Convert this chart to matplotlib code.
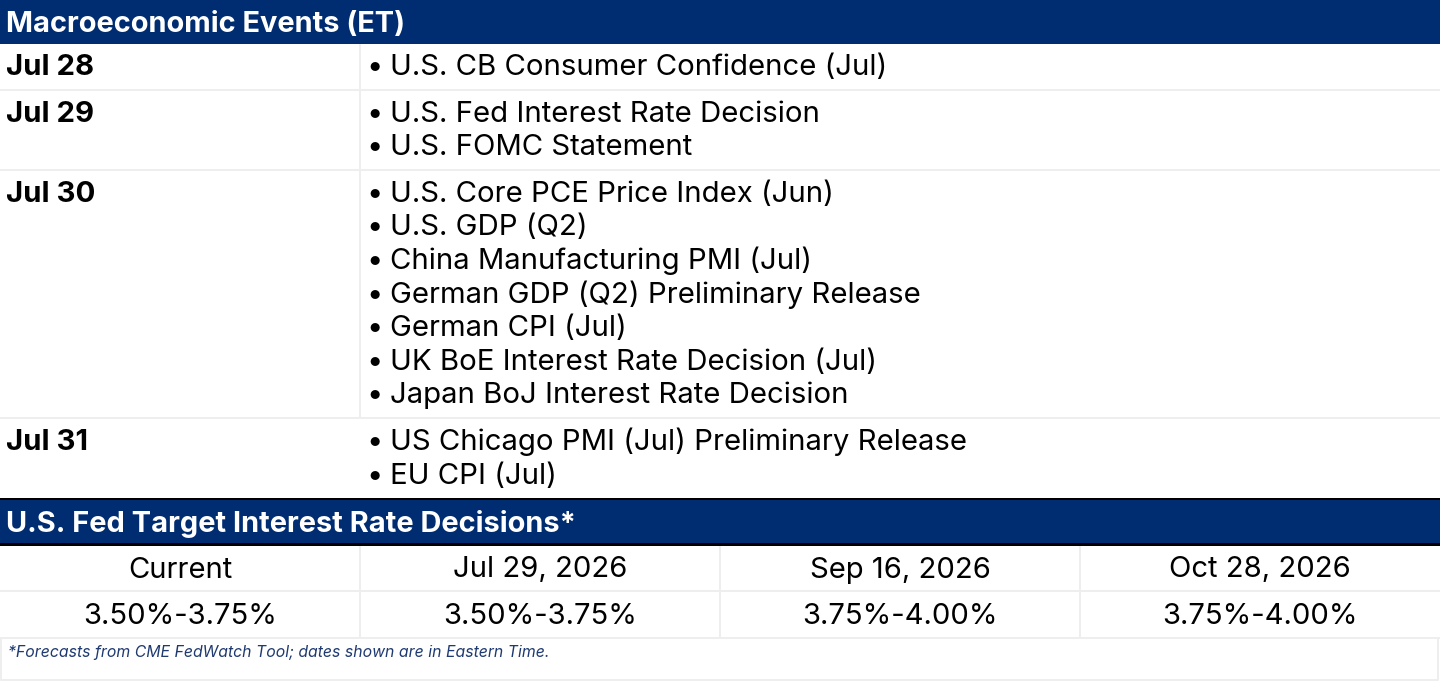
import matplotlib
matplotlib.use("Agg")
import matplotlib.pyplot as plt
from matplotlib.patches import Rectangle

plt.rcParams['font.family'] = ['Inter', 'DejaVu Sans']

# ---- data ----
event_dates = ["Jul 28", "Jul 29", "Jul 30", "Jul 31"]
event_lists = [
    ["U.S. CB Consumer Confidence (Jul)"],
    ["U.S. Fed Interest Rate Decision",
     "U.S. FOMC Statement"],
    ["U.S. Core PCE Price Index (Jun)",
     "U.S. GDP (Q2)",
     "China Manufacturing PMI (Jul)",
     "German GDP (Q2) Preliminary Release",
     "German CPI (Jul)",
     "UK BoE Interest Rate Decision (Jul)",
     "Japan BoJ Interest Rate Decision"],
    ["US Chicago PMI (Jul) Preliminary Release",
     "EU CPI (Jul)"],
]
rate_dates = ["Current", "Jul 29, 2026", "Sep 16, 2026", "Oct 28, 2026"]
rate_ranges = ["3.50%-3.75%", "3.50%-3.75%", "3.75%-4.00%", "3.75%-4.00%"]

title_events = "Macroeconomic Events (ET)"
title_rates = "U.S. Fed Target Interest Rate Decisions*"
footnote = "*Forecasts from CME FedWatch Tool; dates shown are in Eastern Time."

NAVY = "#002D72"
GRID = "#EEEEEE"
W, H = 1440, 682
PX = 72 / 100  # points per pixel
FS = 29.3 * PX
line_h = 33.6

fig = plt.figure(figsize=(W / 100, H / 100), dpi=100)
ax = fig.add_axes([0, 0, 1, 1])
ax.set_xlim(0, W)
ax.set_ylim(H, 0)
ax.axis("off")


def band(y0, y1, color):
    ax.add_patch(Rectangle((0, y0), W, y1 - y0, color=color, lw=0))


def vband(x, y0, y1, color=GRID):
    ax.add_patch(Rectangle((x - 1, y0), 2, y1 - y0, color=color, lw=0))


# ---- events table ----
band(0, 44, NAVY)
ax.text(6, 32, title_events, color="white", fontsize=29 * PX,
        fontweight="bold", va="baseline")

y = 44
for k, (date, evs) in enumerate(zip(event_dates, event_lists)):
    h = 11 + line_h * len(evs)
    ax.text(6, y + 31, date, fontsize=FS, fontweight="bold",
            va="baseline", color="black")
    for i, ev in enumerate(evs):
        base = y + 31 + line_h * i
        ax.text(366, base, "\u2022", fontsize=FS, va="baseline")
        ax.text(390, base, ev, fontsize=FS, va="baseline")
    y += h
    if k < len(event_dates) - 1:
        # last row has no column divider
        vband(360, y - h, y)
        band(y, y + 2, GRID)
        y += 2

# ---- rates table ----
top = 498
band(top, top + 2, "black")
band(top + 2, top + 45, NAVY)
band(top + 45, top + 47.5, "black")
ax.text(6, top + 34, title_rates, color="white", fontsize=29 * PX,
        fontweight="bold", va="baseline")

row0 = top + 47.5
col_w = W / len(rate_dates)
for j, (d, r) in enumerate(zip(rate_dates, rate_ranges)):
    cx = col_w * (j + 0.5)
    ax.text(cx, row0 + 32, d, fontsize=29.2 * PX, ha="center", va="baseline")
    ax.text(cx, row0 + 78, r, fontsize=29.2 * PX, ha="center", va="baseline")
    if j > 0:
        vband(col_w * j, row0, row0 + 91)
band(row0 + 44, row0 + 46, GRID)
band(row0 + 91, row0 + 93, GRID)

# footnote box
ax.plot([1, 1438, 1438, 1, 1], [row0 + 92, row0 + 92, 680, 680, row0 + 92],
        color=GRID, lw=2 * PX)
ax.text(8, row0 + 111, footnote, fontsize=15.8 * PX, style="italic",
        color="#1F3A70", va="baseline")

fig.savefig("out.png", dpi=100)
